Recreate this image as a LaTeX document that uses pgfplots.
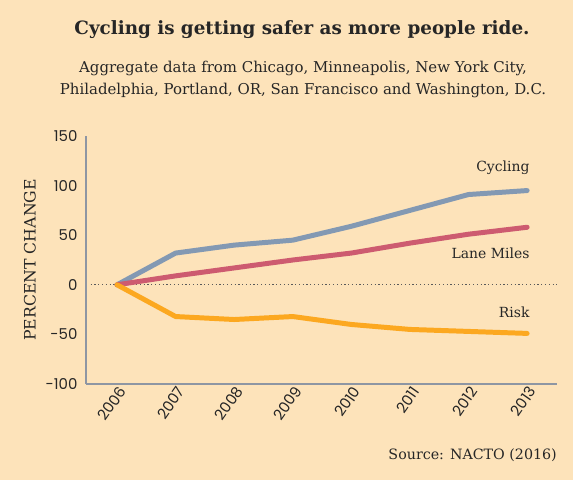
\documentclass[border=0pt]{standalone}
\usepackage{pgfplots}
\pgfplotsset{compat=1.18}
\usepackage{fontspec}
\setmainfont{DejaVu Serif}
\newfontfamily\tickfont{Poppins}
\definecolor{bg}{HTML}{FDE3BA}
\definecolor{cyc}{HTML}{8399B3}
\definecolor{lane}{HTML}{CD5B70}
\definecolor{risk}{HTML}{FCA820}
\definecolor{axc}{HTML}{8E96A3}
\definecolor{txt}{HTML}{262626}
\begin{document}
\begin{tikzpicture}
\useasboundingbox (0,0) rectangle (573bp,480bp);
\fill[bg] (0,0) rectangle (573bp,480bp);
\node[font=\fontsize{18.4}{21}\selectfont\bfseries, text=txt] at (302bp,450bp) {Cycling is getting safer as more people ride.};
\node[font=\fontsize{15}{18}\selectfont, text=txt] at (303bp,412bp) {Aggregate data from Chicago, Minneapolis, New York City,};
\node[font=\fontsize{15}{18}\selectfont, text=txt] at (303bp,390bp) {Philadelphia, Portland, OR, San Francisco and Washington, D.C.};
\node[font=\fontsize{14.3}{17}\selectfont, text=txt, anchor=east, inner sep=0pt] at (557bp,25bp) {Source: NACTO (2016)};
\node[font=\fontsize{15.8}{18}\selectfont, text=txt, rotate=90] at (30bp,220bp) {PERCENT CHANGE};
\begin{axis}[
  at={(86bp,96bp)}, anchor=south west,
  scale only axis, width=471bp, height=248bp,
  xmin=2005.47, xmax=2013.51, ymin=-100, ymax=150,
  axis x line*=bottom, axis y line*=left,
  axis line style={-, axc, line width=1.5pt},
  major tick length=0pt,
  xtick={2006,...,2013}, ytick={-100,-50,0,50,100,150},
  /pgf/number format/assume math mode=true,
  /pgf/number format/1000 sep={},
  tick label style={font=\tickfont\fontsize{15}{17}\selectfont, text=txt},
  yticklabel style={xshift=-5bp},
  xticklabel style={rotate=55, anchor=east, yshift=-7bp, xshift=3bp},
  clip=false,
]
\addplot[gray!70!black, line width=1.2pt, dash pattern=on 1.2pt off 2.6pt] coordinates {(2005.55,0) (2013.51,0)};
\addplot[cyc, line width=5pt, line cap=round, line join=round] coordinates {
(2006,0) (2007,32) (2008,40) (2009,45) (2010,59) (2011,75) (2012,91) (2013,95)};
\addplot[lane, line width=5pt, line cap=round, line join=round] coordinates {
(2006,0) (2007,9) (2008,17) (2009,25) (2010,32) (2011,42) (2012,51) (2013,58)};
\addplot[risk, line width=5pt, line cap=round, line join=round] coordinates {
(2006,0) (2007,-32) (2008,-35) (2009,-32) (2010,-40) (2011,-45) (2012,-47) (2013,-49)};
\node[anchor=east, font=\fontsize{14}{17}\selectfont, text=txt] at (axis cs:2013.1,118) {Cycling};
\node[anchor=east, font=\fontsize{14}{17}\selectfont, text=txt] at (axis cs:2013.1,32) {Lane Miles};
\node[anchor=east, font=\fontsize{14}{17}\selectfont, text=txt] at (axis cs:2013.1,-28) {Risk};
\end{axis}
\end{tikzpicture}
\end{document}
